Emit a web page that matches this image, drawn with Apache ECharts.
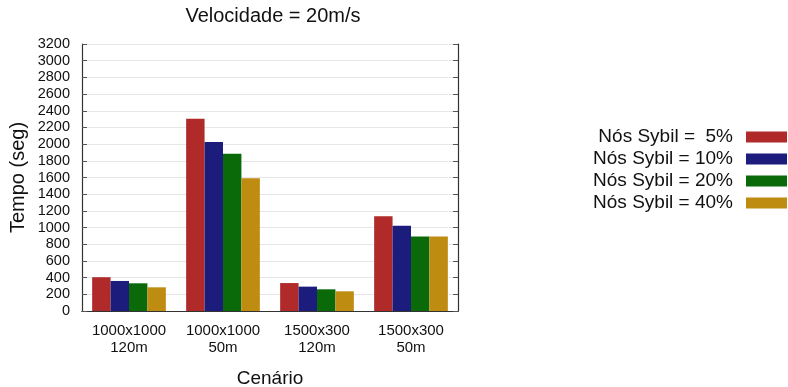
<!DOCTYPE html>
<html><head><meta charset="utf-8">
<script src="https://cdn.jsdelivr.net/npm/echarts@6/dist/echarts.min.js"></script>
<style>html,body{margin:0;padding:0;background:#fff}#c{width:788px;height:387px}</style>
</head><body><div id="c"></div>
<script>
const categories = ['1000x1000\n120m', '1000x1000\n50m', '1500x300\n120m', '1500x300\n50m'];
const seriesNames = ['Nós Sybil =  5%', 'Nós Sybil = 10%', 'Nós Sybil = 20%', 'Nós Sybil = 40%'];
const sybil5 = [405, 2305, 335, 1135];
const sybil10 = [360, 2025, 292, 1022];
const sybil20 = [332, 1885, 260, 892];
const sybil40 = [284, 1590, 236, 894];
const colors = ['#b02a2a', '#1c1c7c', '#0a6a0a', '#be8c10'];
const yTicks = [0, 3200, 200];

const font = 'Liberation Sans, Arial, Helvetica, sans-serif';
const chart = echarts.init(document.getElementById('c'), null, {renderer: 'canvas'});
const data = [sybil5, sybil10, sybil20, sybil40];
chart.setOption({
  animation: false,
  textStyle: {fontFamily: font},
  title: {text: 'Velocidade = 20m/s', left: 273, top: 6, textAlign: 'center', padding: 0,
    textStyle: {fontFamily: font, fontSize: 20, fontWeight: 'normal', color: '#111'}},
  legend: {
    orient: 'vertical', right: 1, top: 126, align: 'right', padding: 0,
    itemWidth: 41, itemHeight: 11, itemGap: 0,
    icon: 'rect',
    textStyle: {fontFamily: font, fontSize: 19, color: '#111', padding: [0, 8, 0, 0], lineHeight: 22},
    data: seriesNames
  },
  grid: {left: 82, right: 330, top: 44, bottom: 76, outerBoundsMode: 'none', containLabel: false},
  xAxis: [{
    type: 'category', data: categories,
    name: 'Cenário', nameLocation: 'middle', nameGap: 58,
    nameTextStyle: {fontFamily: font, fontSize: 19, color: '#111'},
    axisLine: {lineStyle: {color: '#333', width: 1.2}},
    axisTick: {show: false},
    axisLabel: {fontFamily: font, fontSize: 15, color: '#111', margin: 11, lineHeight: 17, interval: 0, hideOverlap: false}
  }, {
    type: 'category', data: categories, position: 'top',
    axisLine: {show: true, lineStyle: {color: '#333', width: 1.2}},
    axisTick: {show: false}, axisLabel: {show: false}
  }],
  yAxis: [{
    type: 'value', min: yTicks[0], max: yTicks[1], interval: yTicks[2],
    name: 'Tempo (seg)', nameLocation: 'middle', nameGap: 54,
    nameTextStyle: {fontFamily: font, fontSize: 20, color: '#111'},
    axisLine: {show: true, lineStyle: {color: '#333', width: 1.2}},
    axisTick: {show: true, inside: true, length: 5, lineStyle: {color: '#555'}},
    axisLabel: {fontFamily: font, fontSize: 14.5, color: '#111', margin: 12, formatter: v => String(v)},
    splitLine: {show: true, lineStyle: {color: '#e6e6e6', width: 1}}
  }, {
    type: 'value', min: yTicks[0], max: yTicks[1], interval: yTicks[2], position: 'right',
    axisLine: {show: true, lineStyle: {color: '#333', width: 1.2}},
    axisTick: {show: true, inside: true, length: 5, lineStyle: {color: '#555'}},
    axisLabel: {show: false}, splitLine: {show: false}
  }],
  series: seriesNames.map((n, i) => ({
    name: n, type: 'bar', data: data[i],
    barGap: '0%', barCategoryGap: '21.6%',
    itemStyle: {color: colors[i]}
  }))
});
</script></body></html>
